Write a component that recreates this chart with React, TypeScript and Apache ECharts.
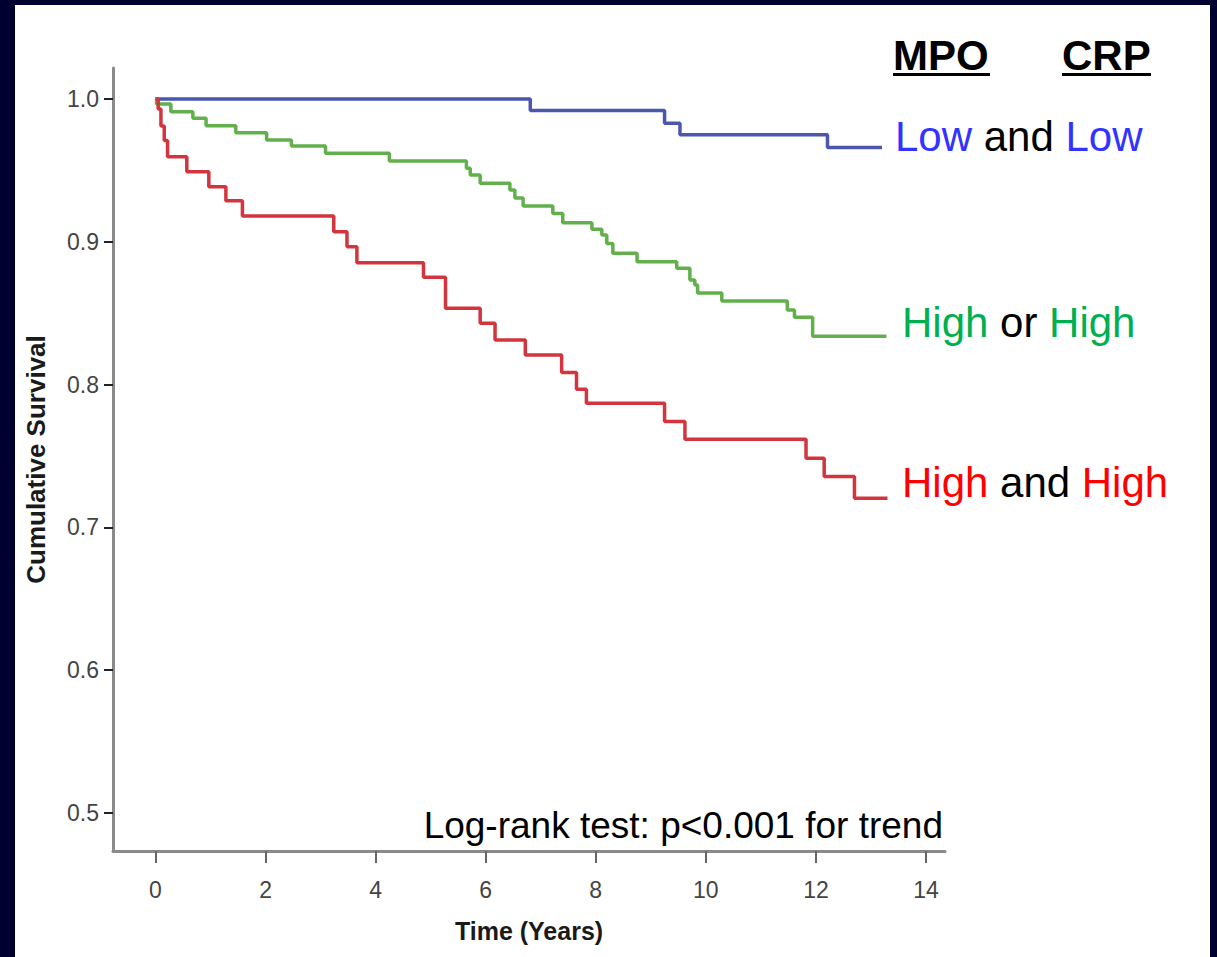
import React, { useEffect, useRef } from "react";
import * as echarts from "echarts";

// ---- Data (Kaplan–Meier step points: time in years, cumulative survival) ----
const blueTime = [0, 6.81, 9.25, 9.53, 12.21, 13.2];
const blueSurv = [1.0, 0.992, 0.983, 0.975, 0.966, 0.966];

const greenTime = [
  0, 0.02, 0.28, 0.68, 0.92, 1.46, 2.02, 2.47, 3.09, 4.25, 5.65, 5.72, 5.9, 6.44,
  6.53, 6.68, 7.22, 7.4, 7.93, 8.11, 8.2, 8.31, 8.75, 9.47, 9.71, 9.8, 9.85, 10.29,
  11.48, 11.61, 11.94, 13.28,
];
const greenSurv = [
  1.0, 0.9965, 0.991, 0.9865, 0.9813, 0.9764, 0.9713, 0.9671, 0.962, 0.9566, 0.9515,
  0.9468, 0.941, 0.9363, 0.9307, 0.925, 0.9199, 0.9133, 0.9087, 0.9047, 0.8988,
  0.8919, 0.886, 0.8814, 0.8732, 0.8697, 0.8641, 0.8586, 0.8523, 0.8472, 0.8338,
  0.8338,
];

const redTime = [
  0, 0.05, 0.1, 0.16, 0.22, 0.57, 0.97, 1.28, 1.58, 3.24, 3.48, 3.66, 4.87, 5.27, 5.9,
  6.17, 6.72, 7.38, 7.65, 7.83, 9.25, 9.62, 11.82, 12.15, 12.7, 13.3,
];
const redSurv = [
  1.0, 0.993, 0.981, 0.971, 0.9596, 0.9491, 0.9386, 0.9288, 0.9181, 0.9071, 0.8966,
  0.8854, 0.8752, 0.8535, 0.843, 0.8313, 0.8208, 0.8084, 0.7968, 0.787, 0.7741,
  0.7618, 0.7485, 0.7357, 0.7205, 0.7205,
];

const xTicks = [0, 2, 4, 6, 8, 10, 12, 14];
const yTicks = [0.5, 0.6, 0.7, 0.8, 0.9, 1.0];

const FONT = "'Liberation Sans', Arial, Helvetica, sans-serif";

const zip = (t: number[], s: number[]) => t.map((v, i) => [v, s[i]]);

export default function App() {
  const ref = useRef<HTMLDivElement>(null);

  useEffect(() => {
    if (!ref.current) return;
    const chart = echarts.init(ref.current, null, { renderer: "svg" });

    const bigText = (
      x: number,
      y: number,
      text: string,
      color: string,
      fontSize = 42,
      align = "left",
      fontWeight = "normal"
    ) => ({
      type: "text",
      x,
      y,
      silent: true,
      style: {
        text,
        fill: color,
        fontSize,
        fontFamily: FONT,
        fontWeight,
        align,
        verticalAlign: "middle",
      },
    });

    const richText = (x: number, y: number, text: string, hi: string) => ({
      type: "text",
      x,
      y,
      silent: true,
      style: {
        text,
        fontSize: 42,
        fontFamily: FONT,
        fill: "#000",
        verticalAlign: "middle",
        rich: {
          c: { fill: hi, fontSize: 42, fontFamily: FONT },
          k: { fill: "#000", fontSize: 42, fontFamily: FONT },
        },
      },
    });

    const option: any = {
      animation: false,
      backgroundColor: "#ffffff",
      textStyle: { fontFamily: FONT },
      grid: { left: 97, top: 63, right: 265, bottom: 106 },
      xAxis: {
        type: "value",
        min: -0.771,
        max: 14.345,
        name: "Time (Years)",
        nameLocation: "middle",
        nameGap: 67,
        nameTextStyle: { fontFamily: FONT, fontWeight: "bold", fontSize: 25, color: "#1a1a1a" },
        axisLine: { show: true, onZero: false, lineStyle: { color: "#8a8a8a", width: 3 } },
        axisTick: { show: true, customValues: xTicks, length: 12, lineStyle: { color: "#666", width: 2 } },
        axisLabel: {
          customValues: xTicks,
          formatter: (v: number) => String(Math.round(v)),
          fontSize: 23,
          color: "#444",
          margin: 27,
          fontFamily: FONT,
        },
        splitLine: { show: false },
      },
      yAxis: {
        type: "value",
        min: 0.4734,
        max: 1.0217,
        name: "Cumulative Survival",
        nameLocation: "middle",
        nameGap: 64,
        nameRotate: 90,
        nameTextStyle: { fontFamily: FONT, fontWeight: "bold", fontSize: 26, color: "#1a1a1a" },
        axisLine: { show: true, onZero: false, lineStyle: { color: "#8a8a8a", width: 3 } },
        axisTick: { show: true, customValues: yTicks, length: 9, lineStyle: { color: "#222", width: 2 } },
        axisLabel: {
          customValues: yTicks,
          formatter: (v: number) => v.toFixed(1),
          fontSize: 23,
          color: "#444",
          margin: 14,
          fontFamily: FONT,
        },
        splitLine: { show: false },
      },
      series: [
        {
          name: "Low and Low",
          type: "line",
          step: "end",
          showSymbol: false,
          data: zip(blueTime, blueSurv),
          lineStyle: { color: "#4a57ad", width: 3.5 },
          itemStyle: { color: "#4a57ad" },
        },
        {
          name: "High or High",
          type: "line",
          step: "end",
          showSymbol: false,
          data: zip(greenTime, greenSurv),
          lineStyle: { color: "#62b04c", width: 3.5 },
          itemStyle: { color: "#62b04c" },
        },
        {
          name: "High and High",
          type: "line",
          step: "end",
          showSymbol: false,
          data: zip(redTime, redSurv),
          lineStyle: { color: "#d2353d", width: 3.5 },
          itemStyle: { color: "#d2353d" },
        },
      ],
      graphic: [
        bigText(878, 50, "MPO", "#000", 42, "left", "bold"),
        { type: "rect", silent: true, shape: { x: 878, y: 68, width: 97, height: 3 }, style: { fill: "#000" } },
        bigText(1047, 50, "CRP", "#000", 42, "left", "bold"),
        { type: "rect", silent: true, shape: { x: 1047, y: 68, width: 89, height: 3 }, style: { fill: "#000" } },
        richText(880, 131, "{c|Low} {k|and} {c|Low}", "#3333ff"),
        richText(887, 317, "{c|High} {k|or} {c|High}", "#00b050"),
        richText(887, 477, "{c|High} {k|and} {c|High}", "#ff0000"),
        bigText(928, 820, "Log-rank test: p<0.001 for trend", "#000", 37, "right"),
      ],
    };

    chart.setOption(option);
    return () => chart.dispose();
  }, []);

  return (
    <div
      style={{
        position: "fixed",
        left: 0,
        top: 0,
        width: 1217,
        height: 957,
        background: "#000030",
        overflow: "hidden",
      }}
    >
      <div
        ref={ref}
        style={{ position: "absolute", left: 15, top: 5, width: 1195, height: 952, background: "#fff" }}
      />
    </div>
  );
}
